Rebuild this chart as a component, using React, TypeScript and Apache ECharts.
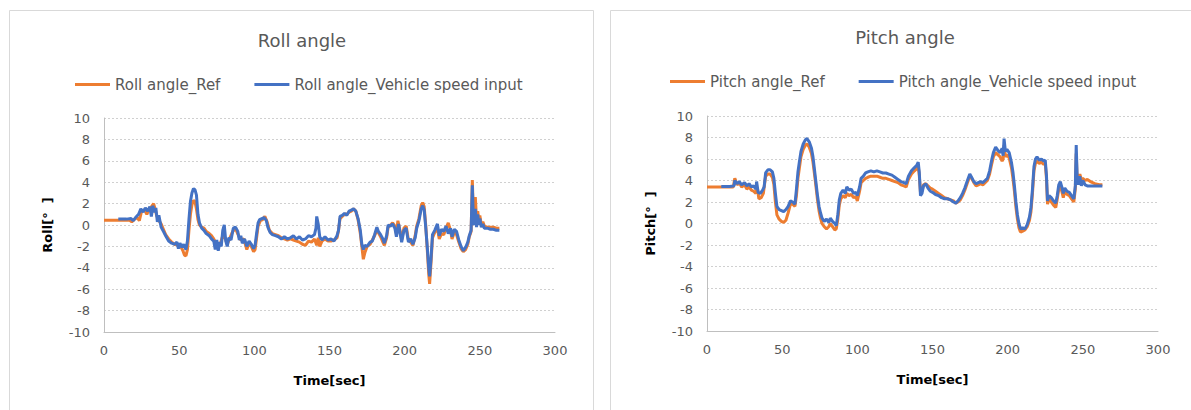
import React, { useEffect, useRef } from "react";
import * as echarts from "echarts";

const xTicks = [0, 50, 100, 150, 200, 250, 300];
const yRange = [-10, 10];

const rollRef: [number, number][] = [
  [0, 0.45], [5, 0.45], [10, 0.45], [15, 0.45], [17, 0.45], [18.5, 0.3], [20, 0.5], [22, 0.7], [23.5, 0.4],
  [25, 1.3], [27, 1.4], [28.5, 1.0], [30, 1.5], [31.5, 1.7], [33, 2.0], [34, 1.5], [35, 0.9], [36.5, 0.4],
  [38, 0.1], [39.5, -0.4], [41, -0.9], [43, -1.3], [45, -1.6], [47, -1.8], [49, -1.9], [51, -2.0], [52.5, -2.4],
  [53.5, -2.8], [54.5, -2.9], [55.5, -2.3], [56.5, -0.5], [57.5, 1.0], [58.5, 1.9], [59.5, 2.3], [60.5, 2.2],
  [61.5, 1.5], [62.5, 0.5], [63.5, 0.0], [65, -0.2], [66.5, -0.3], [68, -0.6], [70, -0.8], [71.5, -1.0],
  [73, -1.3], [74.5, -1.7], [76, -1.9], [77.5, -1.7], [79, -1.0], [80.5, -1.2], [82, -1.8], [83.5, -1.3],
  [85, -0.8], [86.5, -0.4], [88, -0.5], [89.5, -1.0], [91, -1.4], [93, -1.3], [95, -2.3], [96.5, -1.7],
  [98, -2.0], [99.5, -2.5], [100.5, -2.3], [101.5, -1.2], [102.5, -0.1], [104, 0.4], [105.5, 0.5], [107, 0.8],
  [108.5, 0.3], [110, -0.5], [112, -0.8], [114, -0.9], [116, -1.0], [118, -1.2], [120, -1.3], [122, -1.4],
  [124, -1.3], [126, -1.4], [128, -1.5], [130, -1.6], [132, -1.8], [134, -1.9], [136, -1.5], [138, -1.6],
  [140, -1.3], [141.5, -1.9], [142.5, -1.2], [143.5, -2.0], [145, -1.5], [147, -1.3], [149, -1.5], [151, -1.5],
  [153, -1.4], [155, -1.2], [156, -0.5], [157, 0.6], [158.5, 0.8], [160, 1.0], [161.5, 1.0], [163, 1.2],
  [164.5, 1.3], [166, 1.5], [167.5, 1.3], [169, 0.5], [170.5, -0.8], [171.5, -2.0], [172.5, -3.2], [173.5, -2.6],
  [175, -2.0], [177, -1.8], [178.5, -1.4], [180, -1.0], [181.5, -0.5], [182.5, -0.7], [184, -1.1], [185.5, -1.6],
  [186.5, -1.9], [188, -1.2], [189, -0.2], [190.5, 0.0], [192, 0.2], [193.5, -0.1], [194.5, -0.8], [195.5, 0.4],
  [197, -0.6], [198, -1.4], [199.5, -0.3], [201, -0.1], [202.5, -1.4], [204, -1.6], [205.5, -1.9], [207, -1.0],
  [208, -0.1], [209.5, 0.6], [211, 1.8], [212, 2.1], [213, 1.7], [214, 0.0], [215, -2.2], [216, -4.6],
  [216.6, -5.5], [217.5, -3.6], [218.5, -1.2], [220, -0.7], [221.8, -0.3], [223, -1.3], [224.5, -0.8],
  [226, -0.9], [227.5, -0.3], [229, 0.2], [230.5, -0.5], [231.5, -1.3], [233, -0.7], [234.5, -0.9], [236, -1.6],
  [237.5, -2.2], [239, -2.5], [240.5, -2.3], [242, -1.8], [243, -1.1], [244.2, -0.6], [245, 4.2], [245.6, 1.5],
  [246.3, 0.3], [247, 2.6], [247.8, 0.5], [248.6, 1.3], [249.3, 0.4], [250, 0.9], [251, 0.0], [252, 0.3],
  [253, -0.1], [255, -0.2], [257, -0.2], [259, -0.2], [261, -0.3], [263, -0.3],
];

const rollVehicle: [number, number][] = [
  [9.5, 0.55], [12, 0.55], [15, 0.55], [18, 0.6], [19.5, 0.4], [21, 0.7], [23, 1.0], [24.5, 1.5], [26, 1.2],
  [27.5, 1.6], [29, 1.3], [30.5, 1.7], [31.5, 0.8], [32.5, 1.8], [33.5, 1.2], [34.5, 1.6], [35.5, 0.3],
  [36.5, 0.9], [38, -0.2], [39.5, -0.6], [41, -1.0], [43, -1.5], [45, -1.7], [47, -1.8], [48.5, -1.6],
  [49.5, -2.2], [50.5, -1.7], [52, -2.1], [53, -1.8], [54.5, -2.3], [55.5, -1.5], [56.5, 0.5], [57.5, 2.2],
  [58.5, 3.0], [59.5, 3.4], [60.5, 3.3], [61.5, 2.8], [62.5, 1.0], [63.5, 0.2], [65, -0.3], [66.5, -0.5],
  [68, -0.8], [70, -1.0], [71.5, -1.3], [73, -1.5], [74, -2.3], [75, -1.4], [76, -2.4], [77, -1.6], [78, -2.0],
  [79, -0.5], [80, 0.0], [81, -1.5], [82, -2.0], [83, -1.2], [84.5, -1.4], [86, -0.3], [87.5, -0.2], [89, -0.6],
  [90, -1.4], [91, -1.0], [92, -1.7], [93.5, -1.3], [95, -2.0], [96.5, -1.5], [98, -1.8], [99.5, -2.2],
  [100.5, -1.9], [101.5, -0.8], [102.5, 0.2], [103.5, 0.5], [105, 0.6], [106.5, 0.7], [108, 0.4], [109, -0.2],
  [110.5, -0.7], [112, -0.9], [114, -1.0], [116, -1.1], [118, -1.3], [120, -1.1], [122, -1.3], [124, -1.2],
  [126, -1.0], [128, -1.3], [130, -1.1], [132, -1.4], [134, -1.3], [136, -1.0], [138, -1.1], [140, -0.9],
  [141, -0.3], [141.5, 0.8], [142.5, 0.1], [143.5, -1.1], [145, -1.4], [147, -1.1], [149, -1.4], [151, -1.3],
  [153, -1.5], [155, -1.0], [156, -0.5], [157, 0.8], [158.5, 0.9], [160, 1.1], [161.5, 0.9], [163, 1.3],
  [164.5, 1.4], [166, 1.5], [167.5, 1.3], [169, 0.6], [170.5, -0.5], [171.5, -1.8], [172.5, -2.3], [173.5, -1.9],
  [175, -2.0], [177, -1.6], [178.5, -1.5], [180, -0.9], [181.5, -0.2], [182.5, -0.6], [184, -0.9], [185.5, -1.3],
  [186.5, -1.7], [188, -1.0], [189, 0.0], [190.5, -0.1], [192, 0.1], [193.5, -0.3], [194.5, -1.1], [196, 0.1],
  [197, -0.8], [198, -1.6], [199.5, -0.5], [201, -0.3], [202.5, -1.6], [204, -1.3], [205.5, -1.8], [207, -1.2],
  [208, -0.3], [209.5, 0.4], [211, 1.5], [212, 1.8], [213, 1.4], [214, -0.2], [215, -2.0], [216, -4.0],
  [216.6, -4.8], [217.5, -3.2], [218.5, -0.9], [220, -0.5], [221.8, 0.1], [223, -1.0], [224.5, -0.4],
  [226, -0.6], [227.5, -0.1], [229, -0.8], [230.5, -0.3], [231.5, -1.1], [233, -0.4], [234.5, -0.6],
  [236, -1.4], [237.5, -2.0], [239, -2.4], [240.5, -2.1], [242, -1.6], [243, -1.0], [244.2, -0.5], [245, 3.7],
  [245.6, 1.0], [246.3, 0.0], [247, 1.5], [247.8, -0.2], [248.6, 1.0], [249.3, 0.0], [250, 0.6], [251, -0.2],
  [252, 0.1], [253, -0.3], [255, -0.3], [257, -0.4], [259, -0.4], [261, -0.5], [263, -0.5],
];

const pitchRef: [number, number][] = [
  [0, 3.4], [5, 3.4], [10, 3.4], [15, 3.4], [17.5, 3.4], [18.5, 4.2], [20, 3.6], [21.5, 3.8], [23, 3.4],
  [25, 3.6], [26.5, 3.2], [28, 3.4], [29.5, 3.1], [31, 3.0], [32.5, 2.8], [33.5, 3.3], [34.5, 2.3], [36, 2.4],
  [37.5, 2.8], [39, 4.4], [40.5, 4.6], [42, 4.6], [43.5, 4.3], [44.5, 3.6], [45.5, 2.0], [46.5, 0.8], [48, 0.4],
  [49.5, 0.2], [51, 0.1], [52.5, 0.3], [54, 1.0], [55.5, 1.8], [57, 1.8], [58.5, 1.6], [59.5, 2.6], [60.5, 4.2],
  [61.5, 5.2], [62.5, 6.2], [64, 6.9], [65.5, 7.3], [66.5, 7.4], [68, 7.1], [69.5, 6.5], [70.5, 5.7], [71.5, 4.6],
  [72.5, 3.4], [73.5, 2.2], [74.5, 1.2], [75.5, 0.5], [76.5, 0.0], [78, -0.3], [79.5, -0.5], [81, -0.3], [82, 0.0],
  [83.5, -0.3], [85, -0.6], [86, -0.5], [87, 0.4], [88, 1.7], [89, 2.3], [90.5, 2.6], [92, 2.4], [93, 2.8],
  [94.5, 2.6], [96, 2.7], [97.5, 2.4], [99, 2.5], [100, 2.1], [101.5, 3.0], [102.5, 3.8], [104, 4.0], [105.5, 4.2],
  [107, 4.3], [109, 4.4], [111, 4.4], [113, 4.4], [115, 4.3], [117, 4.2], [119, 4.2], [121, 4.1], [123, 4.0],
  [125, 3.9], [127, 3.8], [129, 3.6], [131, 3.5], [132.5, 3.4], [134, 4.1], [136, 4.6], [138, 4.9], [139.5, 5.1],
  [140.5, 5.3], [141.2, 4.5], [142, 2.9], [143, 3.0], [144, 3.6], [145.5, 3.7], [147, 3.5], [148.5, 3.3],
  [150, 3.2], [152, 3.0], [154, 2.8], [156, 2.6], [158, 2.4], [160, 2.3], [162, 2.2], [164, 2.1], [165.5, 1.9],
  [167, 2.0], [168.5, 2.2], [170, 2.6], [171.5, 3.1], [173, 3.7], [174.8, 4.4], [176, 4.2], [177.5, 3.8],
  [179, 3.5], [180.5, 3.6], [182, 3.7], [183.5, 3.6], [185, 3.8], [186.5, 4.0], [188, 4.6], [189.5, 5.6],
  [190.5, 6.2], [192, 6.6], [193.5, 6.4], [195, 6.2], [196.3, 5.8], [197, 6.0], [197.6, 7.3], [198.5, 6.2],
  [199.5, 6.4], [201, 6.1], [202.5, 5.2], [203.5, 4.2], [204.5, 3.0], [205.5, 1.5], [206.5, 0.4], [207.5, -0.4],
  [208.5, -0.8], [210, -0.7], [211.5, -0.6], [213, -0.3], [214.5, 0.3], [215.5, 1.1], [216.5, 2.8], [217.5, 4.9],
  [218.5, 5.6], [219.5, 5.8], [221, 5.6], [222.5, 5.7], [224, 5.5], [225, 5.6], [225.8, 4.2], [226.5, 1.8],
  [227.5, 2.3], [229, 2.0], [230.5, 1.7], [232, 1.5], [233, 2.3], [234, 3.2], [235, 3.5], [236, 3.0], [237, 2.4],
  [238, 3.0], [239.5, 2.7], [241, 2.6], [242.5, 2.3], [244, 2.0], [245, 3.2], [245.6, 6.5], [246.2, 4.2],
  [247, 3.8], [248, 4.6], [249, 4.1], [250, 4.2], [251.5, 4.0], [253, 4.1], [255, 3.9], [258, 3.7], [261, 3.6],
  [263, 3.6],
];

const pitchVehicle: [number, number][] = [
  [9.5, 3.45], [12, 3.45], [15, 3.45], [18, 3.5], [18.5, 4.0], [20, 3.7], [21.5, 3.9], [23, 3.6], [25, 3.8],
  [26.5, 3.5], [28, 3.7], [29.5, 3.4], [31, 3.5], [32.5, 3.2], [33, 3.9], [34, 2.9], [35.5, 2.8], [37, 3.1],
  [38, 3.4], [39, 4.7], [40.5, 5.0], [42, 5.0], [43.5, 4.8], [44.5, 4.2], [45.5, 2.8], [46.5, 1.6], [48, 1.3],
  [49.5, 1.2], [51, 1.1], [52.5, 1.3], [54, 1.6], [55.5, 2.1], [57, 2.0], [58.5, 1.8], [59.5, 3.2], [60.5, 4.8],
  [61.5, 5.8], [62.5, 6.7], [64, 7.4], [65.5, 7.8], [66.5, 7.9], [68, 7.6], [69.5, 7.0], [70.5, 6.2], [71.5, 5.0],
  [72.5, 3.8], [73.5, 2.6], [74.5, 1.6], [75.5, 1.0], [76.5, 0.5], [78, 0.2], [79.5, 0.4], [81, 0.1], [82, 0.5],
  [83.5, 0.2], [85, 0.0], [86, -0.2], [87, 0.8], [88, 2.2], [89, 2.8], [90.5, 3.1], [92, 2.8], [93, 3.4],
  [94.5, 3.1], [96, 3.2], [97.5, 2.8], [99, 2.9], [100, 2.6], [101.5, 3.4], [102.5, 4.2], [104, 4.4], [105.5, 4.7],
  [107, 4.8], [109, 4.9], [111, 4.8], [113, 4.9], [115, 4.8], [117, 4.7], [119, 4.7], [121, 4.6], [123, 4.5],
  [125, 4.3], [127, 4.1], [129, 3.9], [131, 3.8], [132.5, 3.7], [134, 4.4], [136, 4.9], [138, 5.2], [139.5, 5.4],
  [140.5, 5.7], [141.2, 4.8], [142, 2.6], [143, 2.8], [144, 3.5], [145.5, 3.7], [147, 3.3], [148.5, 3.0],
  [150, 2.9], [152, 2.7], [154, 2.6], [156, 2.4], [158, 2.3], [160, 2.3], [162, 2.2], [164, 2.0], [165.5, 1.9],
  [167, 2.1], [168.5, 2.4], [170, 2.8], [171.5, 3.3], [173, 3.9], [174.8, 4.6], [176, 4.3], [177.5, 3.9],
  [179, 3.7], [180.5, 3.8], [182, 3.9], [183.5, 3.8], [185, 4.0], [186.5, 4.2], [188, 4.9], [189.5, 6.0],
  [190.5, 6.6], [192, 7.1], [193.5, 6.8], [195, 6.6], [196.3, 7.0], [197, 6.3], [197.6, 7.9], [198.5, 6.7],
  [199.5, 6.9], [201, 6.6], [202.5, 5.7], [203.5, 4.8], [204.5, 3.5], [205.5, 2.0], [206.5, 0.8], [207.5, 0.0],
  [208.5, -0.5], [210, -0.4], [211.5, -0.5], [213, -0.1], [214.5, 0.6], [215.5, 1.5], [216.5, 3.2], [217.5, 5.3],
  [218.5, 6.0], [219.5, 6.2], [221, 5.9], [222.5, 6.0], [224, 5.8], [225, 5.9], [225.8, 4.5], [226.5, 2.1],
  [227.5, 2.6], [229, 2.4], [230.5, 2.1], [232, 1.9], [233, 2.6], [234, 3.6], [235, 3.9], [236, 3.4], [237, 2.8],
  [238, 3.3], [239.5, 3.0], [241, 2.9], [242.5, 2.6], [244, 2.3], [245, 3.5], [245.6, 7.3], [246.2, 4.5],
  [247, 3.6], [248, 4.4], [249, 3.5], [250, 4.0], [251.5, 3.6], [253, 3.5], [255, 3.5], [258, 3.5], [261, 3.5],
  [263, 3.5],
];

const FONT = "'DejaVu Sans', 'Noto Sans', sans-serif";
const ORANGE = "#ED7D31";
const BLUE = "#4472C4";
const GRAY_TEXT = "#595959";

function xAxisFor(gridIndex: number) {
  return {
    type: "value",
    gridIndex,
    min: xTicks[0],
    max: xTicks[xTicks.length - 1],
    interval: 50,
    name: "Time[sec]",
    nameLocation: "middle",
    nameGap: 42,
    nameTextStyle: { fontFamily: FONT, fontSize: 13, fontWeight: "bold", color: "#000" },
    axisLine: { show: true, onZero: false, lineStyle: { color: "#bfbfbf", width: 1 } },
    axisTick: { show: false },
    axisLabel: { color: GRAY_TEXT, fontFamily: FONT, fontSize: 13, margin: 12 },
    splitLine: { show: false },
  };
}

function yAxisFor(gridIndex: number, name: string) {
  return {
    type: "value",
    gridIndex,
    min: yRange[0],
    max: yRange[1],
    interval: 2,
    name,
    nameLocation: "middle",
    nameGap: 50,
    nameTextStyle: { fontFamily: FONT, fontSize: 13, fontWeight: "bold", color: "#000" },
    axisLine: { show: true, lineStyle: { color: "#bfbfbf", width: 1 } },
    axisTick: { show: false },
    axisLabel: { color: GRAY_TEXT, fontFamily: FONT, fontSize: 13, margin: 14 },
    splitLine: { show: true, lineStyle: { color: "#d0d0d0", width: 1, type: [2, 2] } },
  };
}

function lineSeries(name: string, data: [number, number][], color: string, idx: number, z: number) {
  return {
    type: "line",
    name,
    data,
    xAxisIndex: idx,
    yAxisIndex: idx,
    showSymbol: false,
    symbol: "none",
    z,
    lineStyle: { color, width: 3 },
    itemStyle: { color },
  };
}

export default function App() {
  const ref = useRef<HTMLDivElement>(null);
  useEffect(() => {
    if (!ref.current) return;
    const chart = echarts.init(ref.current, undefined, { renderer: "svg" });
    const legendCommon = {
      icon: "rect",
      itemWidth: 35,
      itemHeight: 3,
      itemGap: 34,
      textStyle: { fontFamily: FONT, fontSize: 15, color: GRAY_TEXT },
    };
    chart.setOption({
      animation: false,
      backgroundColor: "#ffffff",
      title: [
        { text: "Roll angle", left: 297, top: 26, textAlign: "center", textStyle: { fontFamily: FONT, fontSize: 18, fontWeight: "normal", color: GRAY_TEXT } },
        { text: "Pitch angle", left: 900, top: 23, textAlign: "center", textStyle: { fontFamily: FONT, fontSize: 18, fontWeight: "normal", color: GRAY_TEXT } },
      ],
      legend: [
        { ...legendCommon, left: 70, top: 72, data: ["Roll angle_Ref", "Roll angle_Vehicle speed input"] },
        { ...legendCommon, left: 665, top: 69, data: ["Pitch angle_Ref", "Pitch angle_Vehicle speed input"] },
      ],
      grid: [
        { left: 104, top: 118, width: 451, height: 214 },
        { left: 707, top: 116, width: 451, height: 215 },
      ],
      xAxis: [xAxisFor(0), xAxisFor(1)],
      yAxis: [yAxisFor(0, "Roll[°  ]"), yAxisFor(1, "Pitch[°  ]")],
      series: [
        lineSeries("Roll angle_Ref", rollRef, ORANGE, 0, 2),
        lineSeries("Roll angle_Vehicle speed input", rollVehicle, BLUE, 0, 3),
        lineSeries("Pitch angle_Ref", pitchRef, ORANGE, 1, 2),
        lineSeries("Pitch angle_Vehicle speed input", pitchVehicle, BLUE, 1, 3),
      ],
      graphic: [
        { type: "rect", left: 7, top: 8, shape: { width: 584, height: 430 }, style: { fill: "none", stroke: "#d9d9d9", lineWidth: 1 }, silent: true },
        { type: "rect", left: 608, top: 8, shape: { width: 581, height: 430 }, style: { fill: "none", stroke: "#d9d9d9", lineWidth: 1 }, silent: true },
      ],
    });
    return () => chart.dispose();
  }, []);
  return (
    <div
      ref={ref}
      style={{ position: "absolute", left: 0, top: 0, width: 1191, height: 410, background: "#fff" }}
    />
  );
}
